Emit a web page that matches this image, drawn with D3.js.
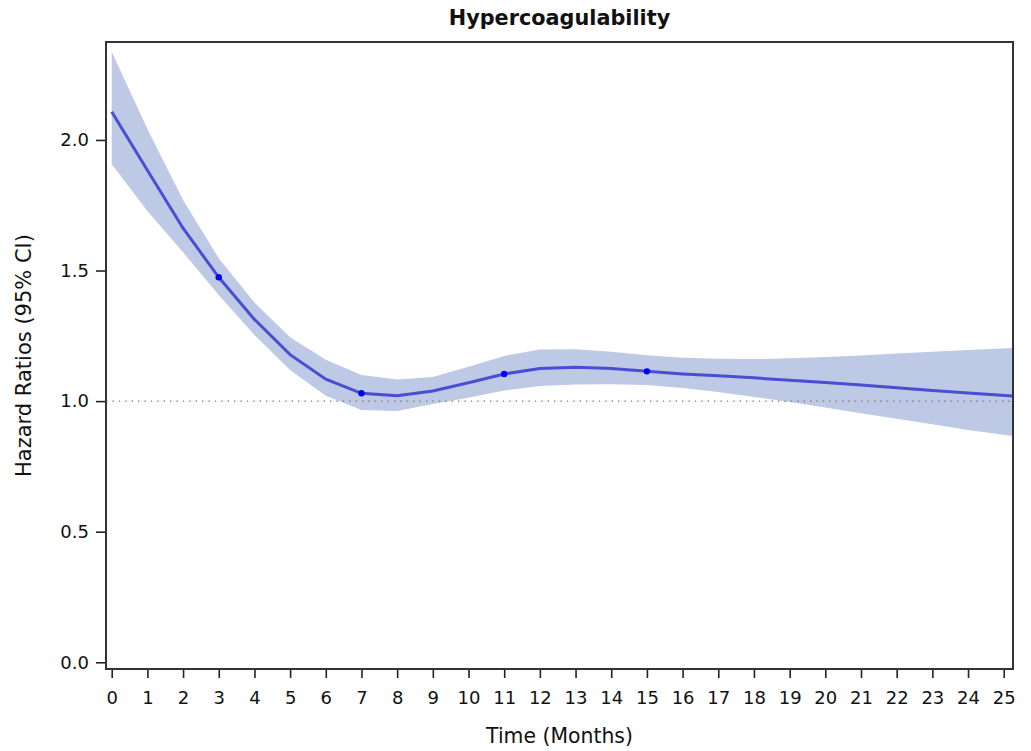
<!DOCTYPE html>
<html>
<head>
<meta charset="utf-8">
<script src="https://cdn.jsdelivr.net/npm/d3@7"></script>
<style>
  body { margin: 0; background: #fff; }
  text { font-family: "DejaVu Sans", sans-serif; fill: #111; }
</style>
</head>
<body>
<div id="chart"></div>
<script>
// data
var months = [0, 1, 2, 3, 4, 5, 6, 7, 8, 9, 10, 11, 12, 13, 14, 15, 16, 17, 18, 19, 20, 21, 22, 23, 24, 25.25];
var hr     = [2.108, 1.884, 1.662, 1.474, 1.313, 1.178, 1.084, 1.030, 1.021, 1.039, 1.070, 1.104, 1.125, 1.130, 1.125, 1.114, 1.104, 1.097, 1.089, 1.080, 1.071, 1.062, 1.051, 1.041, 1.031, 1.020];
var upper  = [2.338, 2.042, 1.770, 1.547, 1.378, 1.245, 1.158, 1.100, 1.083, 1.092, 1.132, 1.173, 1.198, 1.199, 1.189, 1.176, 1.166, 1.162, 1.161, 1.164, 1.169, 1.175, 1.182, 1.189, 1.196, 1.203];
var lower  = [1.907, 1.728, 1.570, 1.406, 1.253, 1.119, 1.021, 0.966, 0.962, 0.989, 1.013, 1.041, 1.058, 1.064, 1.065, 1.062, 1.050, 1.035, 1.016, 0.997, 0.976, 0.954, 0.932, 0.911, 0.889, 0.866];
var markerMonths = [3, 7, 11, 15];
var xTicks = d3.range(0, 26);
var yTicks = [0, 0.5, 1.0, 1.5, 2.0];

var width = 1031, height = 751;
var margin = {top: 42, right: 18, bottom: 82, left: 106};
var w = width - margin.left - margin.right,
    h = height - margin.top - margin.bottom;

var svg = d3.select("#chart").append("svg")
  .attr("width", width)
  .attr("height", height);

var g = svg.append("g")
  .attr("transform", "translate(" + margin.left + "," + margin.top + ")");

var x = d3.scaleLinear().domain([-0.16, 25.26]).range([0, w]);
var y = d3.scaleLinear().domain([-0.0257, 2.375]).range([h, 0]);

var data = months.map(function(m, i) {
  return {m: m, hr: hr[i], lo: lower[i], hi: upper[i]};
});

g.append("clipPath").attr("id", "clip")
  .append("rect").attr("width", w).attr("height", h);

var plot = g.append("g").attr("clip-path", "url(#clip)");

// confidence band
plot.append("path")
  .datum(data)
  .attr("fill", "#bdc9e5")
  .attr("d", d3.area()
    .x(function(d) { return x(d.m); })
    .y0(function(d) { return y(d.lo); })
    .y1(function(d) { return y(d.hi); }));

// reference line at 1
plot.append("line")
  .attr("x1", 0).attr("x2", w)
  .attr("y1", y(1)).attr("y2", y(1))
  .attr("stroke", "#777")
  .attr("stroke-width", 1.4)
  .attr("stroke-dasharray", "1.4,5");

// hazard ratio line
plot.append("path")
  .datum(data)
  .attr("fill", "none")
  .attr("stroke", "#4a4fd2")
  .attr("stroke-width", 3)
  .attr("d", d3.line()
    .x(function(d) { return x(d.m); })
    .y(function(d) { return y(d.hr); }));

// markers
plot.selectAll(".dot")
  .data(data.filter(function(d) { return markerMonths.indexOf(d.m) >= 0; }))
  .enter().append("circle")
  .attr("cx", function(d) { return x(d.m); })
  .attr("cy", function(d) { return y(d.hr); })
  .attr("r", 3.2)
  .attr("fill", "#0000ff");

// axes
var xAxis = g.append("g")
  .attr("transform", "translate(0," + h + ")")
  .call(d3.axisBottom(x).tickValues(xTicks).tickSize(9).tickPadding(13).tickFormat(d3.format("d")));
var yAxis = g.append("g")
  .call(d3.axisLeft(y).tickValues(yTicks).tickSize(10).tickPadding(7).tickFormat(d3.format(".1f")));

[xAxis, yAxis].forEach(function(a) {
  a.select(".domain").remove();
  a.selectAll("line").attr("stroke", "#222").attr("stroke-width", 1.6);
  a.selectAll("text").style("font-size", "18px").attr("fill", "#111");
});

// frame
g.append("rect")
  .attr("width", w).attr("height", h)
  .attr("fill", "none")
  .attr("stroke", "#333")
  .attr("stroke-width", 2);

// titles
svg.append("text")
  .attr("x", margin.left + w / 2).attr("y", 25)
  .attr("text-anchor", "middle")
  .style("font-size", "20.8px").style("font-weight", "bold")
  .text("Hypercoagulability");

svg.append("text")
  .attr("x", margin.left + w / 2).attr("y", 743)
  .attr("text-anchor", "middle")
  .style("font-size", "20.4px")
  .text("Time (Months)");

svg.append("text")
  .attr("transform", "translate(31," + (margin.top + h / 2) + ") rotate(-90)")
  .attr("text-anchor", "middle")
  .style("font-size", "21px")
  .text("Hazard Ratios (95% CI)");
</script>
</body>
</html>
